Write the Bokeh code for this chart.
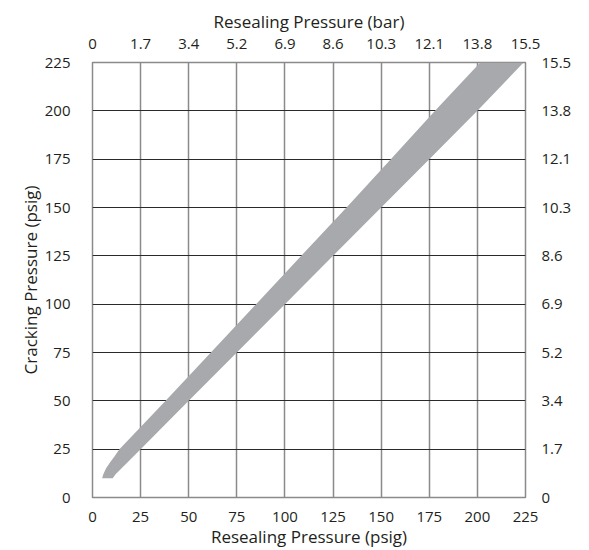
from bokeh.plotting import figure
from bokeh.models import LinearAxis, FixedTicker, Range1d
from bokeh.embed import file_html
from bokeh.resources import INLINE

# Band: for each cracking pressure level, the resealing pressure range (psig)
cracking_psig = [10, 12, 15, 18, 21, 25, 50, 75, 100, 125, 150, 175, 200, 225]
resealing_min = [5.0, 5.6, 7.0, 9.0, 11.2, 14.0, 38.0, 61.5, 85.0, 108.5, 132.0, 155.0, 178.0, 201.5]
resealing_max = [10.5, 12.0, 15.0, 18.0, 21.0, 25.0, 50.0, 75.0, 100.0, 125.0, 150.0, 175.0, 200.0, 224.0]

psig_ticks = [0, 25, 50, 75, 100, 125, 150, 175, 200, 225]
bar_labels = ["0", "1.7", "3.4", "5.2", "6.9", "8.6", "10.3", "12.1", "13.8", "15.5"]

FONT = "Open Sans"
TXT = "#231f20"

p = figure(width=589, height=550, output_backend="svg", toolbar_location=None,
           x_range=Range1d(0, 225), y_range=Range1d(0, 225),
           x_axis_location="below", y_axis_location="left",
           min_border_left=92, min_border_right=64, min_border_top=62, min_border_bottom=52)

p.outline_line_color = "#8a8a8a"
p.outline_line_width = 1.5
p.background_fill_color = "white"
p.border_fill_color = "white"

p.harea(y=cracking_psig, x1=resealing_min, x2=resealing_max, fill_color="#a7a9ac", fill_alpha=1.0)

p.xgrid.ticker = FixedTicker(ticks=psig_ticks)
p.ygrid.ticker = FixedTicker(ticks=psig_ticks)
p.xgrid.grid_line_color = "#8a8a8a"
p.xgrid.grid_line_width = 1.5
p.ygrid.grid_line_color = "#2a2a2a"
p.ygrid.grid_line_width = 1.0

def style(ax, label, tick_standoff, label_standoff):
    ax.ticker = FixedTicker(ticks=psig_ticks)
    ax.axis_label = label
    ax.axis_line_color = None
    ax.major_tick_line_color = None
    ax.minor_tick_line_color = None
    ax.major_label_text_font = FONT
    ax.major_label_text_font_size = "15px"
    ax.major_label_text_color = TXT
    ax.axis_label_text_font = FONT
    ax.axis_label_text_font_size = "17px"
    ax.axis_label_text_font_style = "normal"
    ax.axis_label_text_color = TXT
    ax.major_label_standoff = tick_standoff
    ax.axis_label_standoff = label_standoff

style(p.xaxis[0], "Resealing Pressure (psig)", 8, 0)
style(p.yaxis[0], "Cracking Pressure (psig)", 16, 0)

top = LinearAxis()
style(top, "Resealing Pressure (bar)", 8, 3)
top.major_label_overrides = {t: s for t, s in zip(psig_ticks, bar_labels)}
p.add_layout(top, "above")

right = LinearAxis()
style(right, "", 10, 0)
right.axis_label = None
right.major_label_overrides = {t: s for t, s in zip(psig_ticks, bar_labels)}
p.add_layout(right, "right")

open("out.html", "w").write(file_html(p, INLINE))
